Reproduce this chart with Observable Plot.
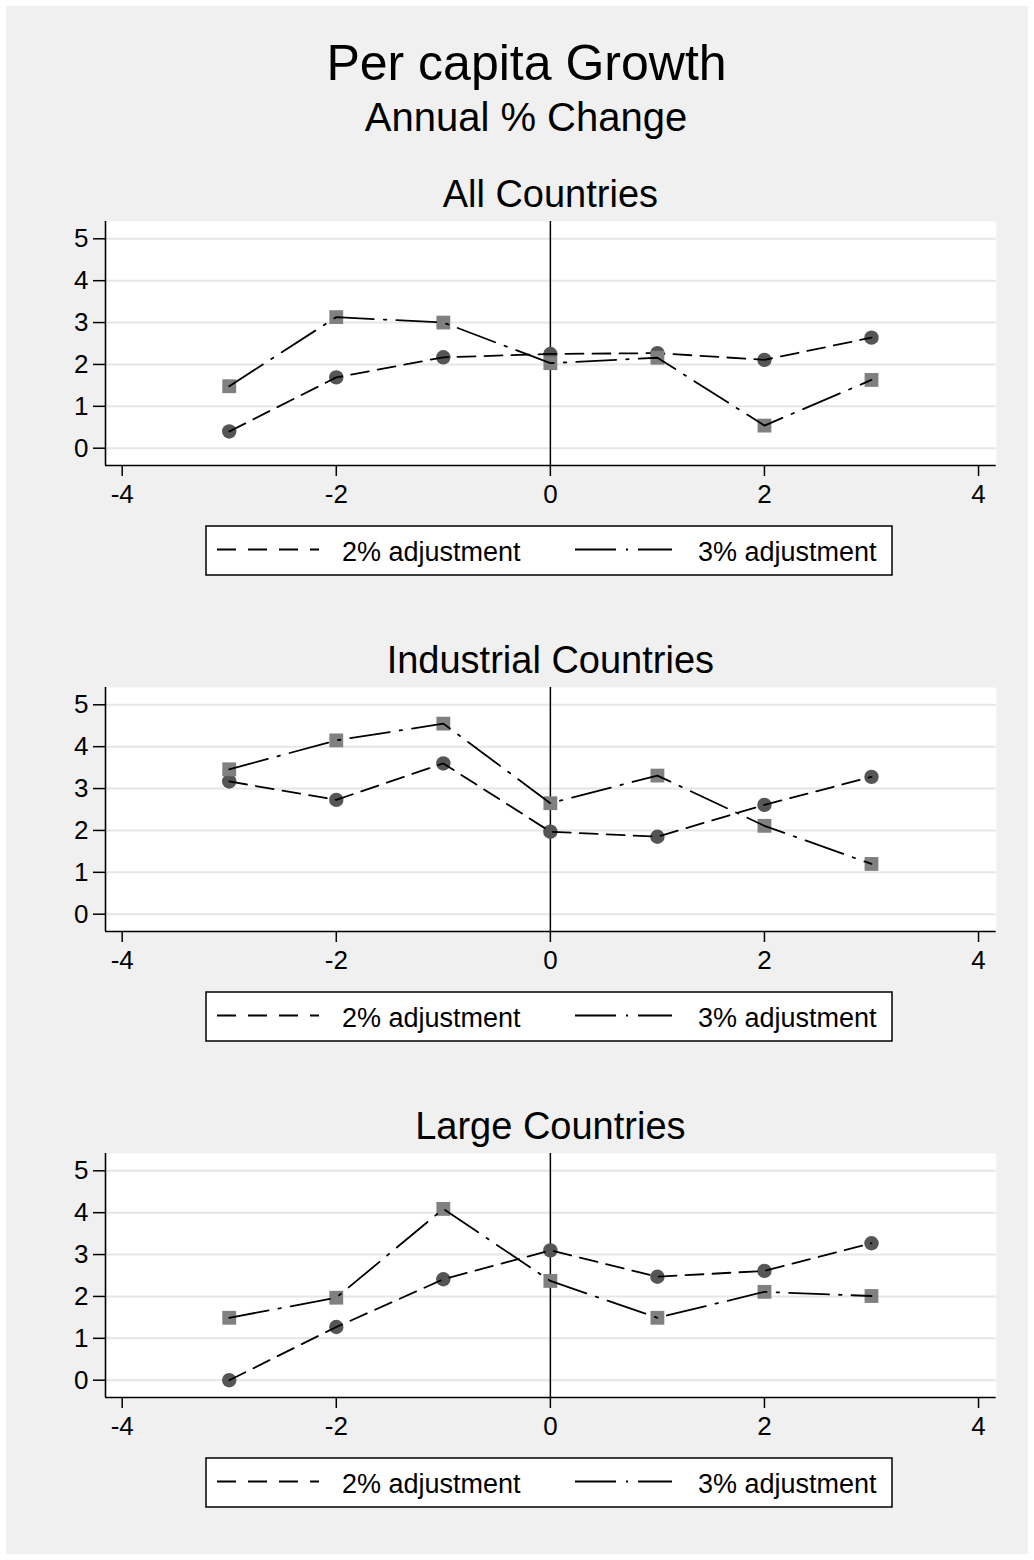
<!DOCTYPE html>
<html>
<head>
<meta charset="utf-8">
<script src="https://cdn.jsdelivr.net/npm/d3@7"></script>
<script src="https://cdn.jsdelivr.net/npm/@observablehq/plot@0.6"></script>
<style>
  html, body { margin: 0; padding: 0; background: #ffffff; }
  #page {
    position: relative; width: 1034px; height: 1560px; overflow: hidden;
    font-family: "Liberation Sans", Arial, Helvetica, sans-serif; color: #000;
  }
  #bg { position: absolute; left: 6px; top: 6px; width: 1022px; height: 1548px; background: #f0f0f0; }
  .txt { position: absolute; line-height: 1; white-space: nowrap; text-align: center; }
  .abs { position: absolute; }
</style>
</head>
<body>
<div id="page"><div id="bg"></div></div>
<script>
// Event time (years relative to the adjustment) and per capita growth, annual % change
const years = [-3, -2, -1, 0, 1, 2, 3];

const allAdj2 = [0.40, 1.69, 2.17, 2.25, 2.27, 2.11, 2.64];
const allAdj3 = [1.48, 3.13, 3.00, 2.03, 2.16, 0.54, 1.63];

const indAdj2 = [3.17, 2.73, 3.60, 1.97, 1.85, 2.61, 3.28];
const indAdj3 = [3.46, 4.15, 4.55, 2.65, 3.31, 2.11, 1.20];

const largeAdj2 = [0.00, 1.27, 2.41, 3.10, 2.47, 2.61, 3.27];
const largeAdj3 = [1.49, 1.97, 4.09, 2.37, 1.49, 2.11, 2.01];

const panelTitles = ["All Countries", "Industrial Countries", "Large Countries"];
const seriesLabels = ["2% adjustment", "3% adjustment"];
const xTicks = [-4, -2, 0, 2, 4];
const yTicks = [0, 1, 2, 3, 4, 5];

const mainTitle = "Per capita Growth";
const subTitle = "Annual % Change";

const panels = [
  { title: panelTitles[0], a2: allAdj2, a3: allAdj3 },
  { title: panelTitles[1], a2: indAdj2, a3: indAdj3 },
  { title: panelTitles[2], a2: largeAdj2, a3: largeAdj3 }
];

const FONT = '"Liberation Sans", Arial, Helvetica, sans-serif';
const xDomain = [-4.156, 4.165];
const yDomain = [-0.413, 5.413];
const dash2 = "18,9";
const dash3 = "40,10,2.5,10";
const fmt = d => (d < 0 ? "-" + Math.abs(d) : String(d));

const page = document.getElementById("page");

function addText(str, size, left, width, baseline) {
  const el = document.createElement("div");
  el.className = "txt";
  el.textContent = str;
  el.style.fontSize = size + "px";
  el.style.left = left + "px";
  el.style.width = width + "px";
  el.style.top = (baseline - 0.8465 * size) + "px";
  page.appendChild(el);
}

addText(mainTitle, 50, 26.5, 1000, 80);
addText(subTitle, 40, 26, 1000, 131);

function drawPanel(p) {
  const rows2 = years.map((x, i) => ({ x, y: p.a2[i] }));
  const rows3 = years.map((x, i) => ({ x, y: p.a3[i] }));
  return Plot.plot({
    width: 1034,
    height: 304,
    marginLeft: 105,
    marginRight: 38.3,
    marginTop: 10,
    marginBottom: 50,
    style: { background: "transparent", fontFamily: FONT, color: "#000", overflow: "visible" },
    x: { domain: xDomain },
    y: { domain: yDomain },
    marks: [
      Plot.frame({ fill: "white", stroke: "none" }),
      Plot.ruleY(yTicks, { stroke: "#e6e6e6", strokeWidth: 2 }),
      Plot.ruleX([0], { stroke: "#000", strokeWidth: 1.5 }),
      Plot.ruleY([yDomain[0]], { stroke: "#000", strokeWidth: 1.6 }),
      Plot.ruleX([xDomain[0]], { stroke: "#000", strokeWidth: 1.6 }),
      Plot.axisY({ ticks: yTicks, tickSize: 12, tickPadding: 5, fontSize: 26, tickFormat: fmt, label: null, strokeWidth: 1.5 }),
      Plot.axisX({ ticks: xTicks, tickSize: 11, tickPadding: 8, fontSize: 26, tickFormat: fmt, label: null, strokeWidth: 1.5 }),
      Plot.dot(rows2, { x: "x", y: "y", r: 7.2, symbol: "circle", fill: "#555555", stroke: "none" }),
      Plot.line(rows2, { x: "x", y: "y", stroke: "#000", strokeWidth: 1.8, strokeDasharray: dash2 }),
      Plot.dot(rows3, { x: "x", y: "y", r: 7.8, symbol: "square", fill: "#808080", stroke: "none" }),
      Plot.line(rows3, { x: "x", y: "y", stroke: "#000", strokeWidth: 1.8, strokeDasharray: dash3 })
    ]
  });
}

function drawLegend() {
  const w = 686, h = 49;
  const svg = d3.create("svg")
    .attr("width", w + 4).attr("height", h + 4)
    .attr("viewBox", `-2 -2 ${w + 4} ${h + 4}`)
    .style("font-family", FONT);
  svg.append("rect").attr("x", 0).attr("y", 0).attr("width", w).attr("height", h)
    .attr("fill", "white").attr("stroke", "#000").attr("stroke-width", 1.5);
  const items = [
    { label: seriesLabels[0], dash: "19,12", x0: 11, x1: 113, tx: 136 },
    { label: seriesLabels[1], dash: "41,10,2,10", x0: 369, x1: 466, tx: 492 }
  ];
  for (const it of items) {
    svg.append("line").attr("x1", it.x0).attr("x2", it.x1).attr("y1", 23.5).attr("y2", 23.5)
      .attr("stroke", "#000").attr("stroke-width", 1.8).attr("stroke-dasharray", it.dash);
    svg.append("text").attr("x", it.tx).attr("y", 35).attr("font-size", 27).attr("fill", "#000")
      .text(it.label);
  }
  return svg.node();
}

const step = 466;
panels.forEach((p, i) => {
  const off = i * step;
  addText(p.title, 38, 105, 890.7, 207 + off);

  const chart = drawPanel(p);
  chart.classList.add("abs");
  chart.style.left = "0px";
  chart.style.top = (221 - 10 + off) + "px";
  page.appendChild(chart);

  const legend = drawLegend();
  legend.classList.add("abs");
  legend.style.left = (206 - 2) + "px";
  legend.style.top = (526 - 2 + off) + "px";
  page.appendChild(legend);
});
</script>
</body>
</html>
